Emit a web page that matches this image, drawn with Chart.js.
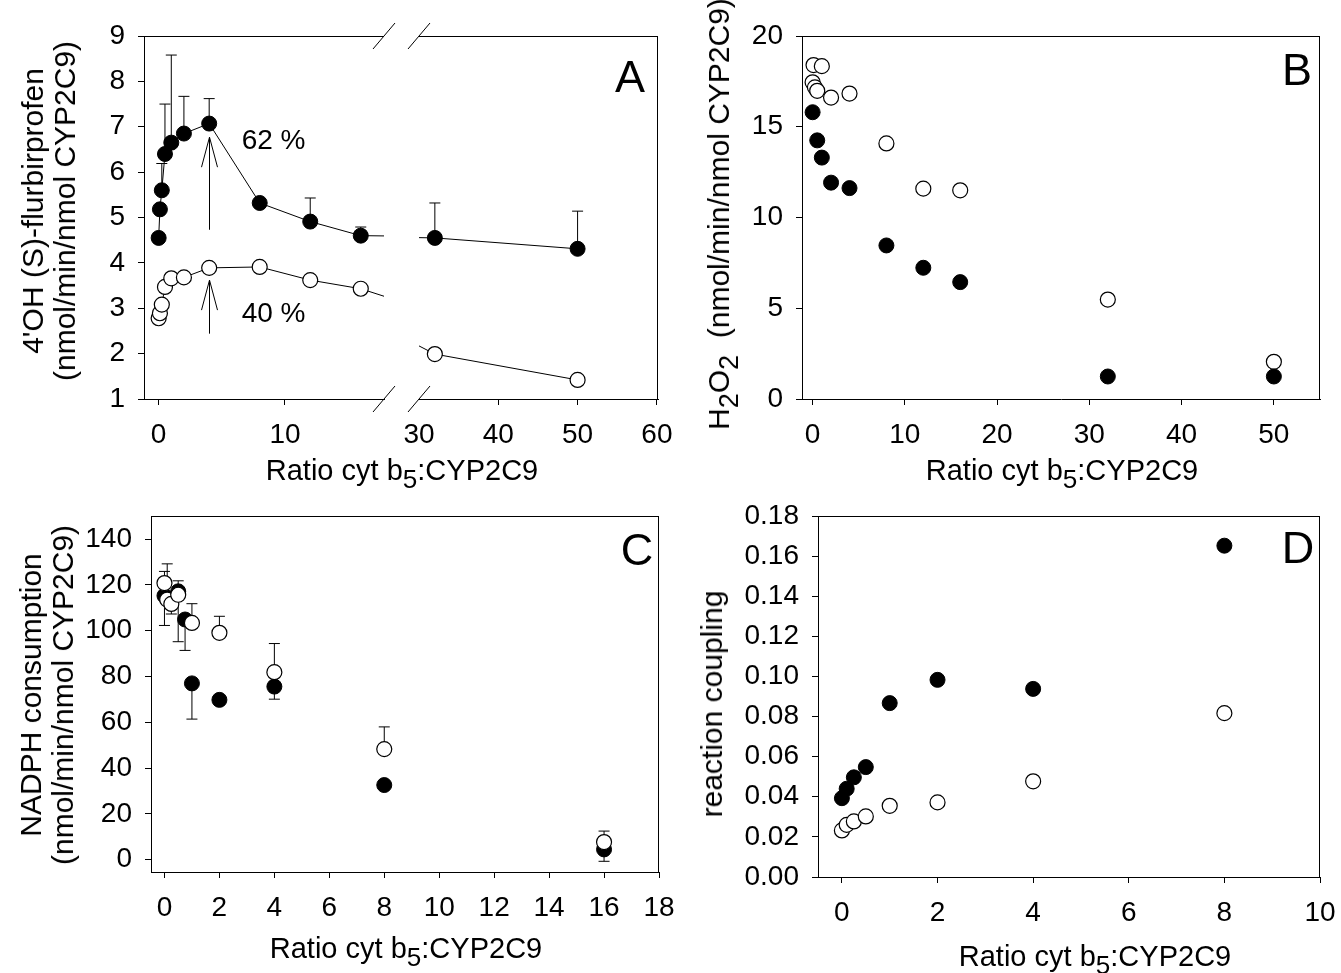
<!DOCTYPE html>
<html>
<head>
<meta charset="utf-8">
<title>cyt b5 : CYP2C9</title>
<script src="https://cdn.jsdelivr.net/npm/chart.js@4.4.1/dist/chart.umd.min.js"></script>
<style>
  html, body { margin: 0; padding: 0; background: #fff; }
  body { width: 1341px; height: 973px; position: relative; overflow: hidden;
         font-family: 'Liberation Sans', Arial, sans-serif; color: #000; }
  canvas { position: absolute; }
  .txt { position: absolute; white-space: nowrap; font-size: 29px; line-height: 1; z-index: 2; }
  .xlab { transform: translate(-50%, -50%); }
  .ylab { transform: translate(-50%, -50%) rotate(-90deg); text-align: center; line-height: 32px; font-size: 30px; }
  .letter { position: absolute; font-size: 45px; line-height: 1; transform: translate(-50%, -50%); z-index: 2; }
  sub { font-size: 0.9em; vertical-align: -0.34em; line-height: 0; }
</style>
</head>
<body>
<canvas id="chartA1"></canvas>
<canvas id="chartA2"></canvas>
<canvas id="chartB"></canvas>
<canvas id="chartC"></canvas>
<canvas id="chartD"></canvas>

<div class="txt ylab" style="left:49px; top:211px;">4'OH (S)-flurbirprofen<br>(nmol/min/nmol CYP2C9)</div>
<div class="txt xlab" style="left:402px; top:470px;">Ratio cyt b<sub>5</sub>:CYP2C9</div>
<div class="letter" style="left:630px; top:76px;">A</div>

<div class="txt ylab" style="left:719px; top:214px;">H<sub>2</sub>O<sub>2</sub>&nbsp; (nmol/min/nmol CYP2C9)</div>
<div class="txt xlab" style="left:1062px; top:470px;">Ratio cyt b<sub>5</sub>:CYP2C9</div>
<div class="letter" style="left:1297px; top:69px;">B</div>

<div class="txt ylab" style="left:47px; top:695px;">NADPH consumption<br>(nmol/min/nmol CYP2C9)</div>
<div class="txt xlab" style="left:406px; top:948px;">Ratio cyt b<sub>5</sub>:CYP2C9</div>
<div class="letter" style="left:637px; top:549px;">C</div>

<div class="txt ylab" style="left:712px; top:704px;">reaction coupling</div>
<div class="txt xlab" style="left:1095px; top:956px;">Ratio cyt b<sub>5</sub>:CYP2C9</div>
<div class="letter" style="left:1298px; top:547px;">D</div>

<script>
// Panel A: 4'OH-flurbiprofen formation (filled / open series)
const ratioA = [0, 0.1, 0.25, 0.5, 1, 2, 4, 8, 12, 16, 32, 50];
const ohFilledA = [4.55, 5.18, 5.6, 6.4, 6.65, 6.85, 7.07, 5.32, 4.91, 4.6, 4.55, 4.31];
const ohFilledTopA = [null, null, 6.19, 7.5, 8.58, 7.67, 7.62, null, 5.43, 4.79, 5.32, 5.14];
const ohOpenA = [2.78, 2.89, 3.08, 3.47, 3.66, 3.68, 3.89, 3.91, 3.62, 3.43, 1.99, 1.42];

// Panel B: H2O2 formation
const ratioFilledB = [0, 0.5, 1, 2, 4, 8, 12, 16, 32, 50];
const h2o2FilledB = [15.8, 14.25, 13.3, 11.92, 11.62, 8.46, 7.23, 6.44, 1.24, 1.24];
const ratioOpenB = [0, 0.1, 0.25, 0.5, 1, 2, 4, 8, 12, 16, 32, 50];
const h2o2OpenB = [17.45, 18.4, 17.17, 16.98, 18.34, 16.61, 16.83, 14.08, 11.59, 11.5, 5.48, 2.05];

// Panel C: NADPH consumption
const ratioFilledC = [0, 0.5, 0.75, 1, 2, 4, 8, 16];
const nadphFilledC = [115.3, 117.2, 104.9, 77.0, 69.8, 75.6, 32.6, 4.5];
const nadphFilledLowC = [102.3, 95.2, 91.4, 61.4, null, 70.1, null, -0.7];
const nadphFilledHighC = [125.9, 121.8, null, null, null, null, null, null];
const ratioOpenC = [0, 0.1, 0.25, 0.5, 1, 2, 4, 8, 16];
const nadphOpenC = [120.8, 113.6, 111.7, 115.7, 103.4, 99.1, 81.9, 48.3, 7.7];
const nadphOpenLowC = [null, null, 107.3, null, null, null, null, null, null];
const nadphOpenHighC = [null, 129.2, null, null, 111.8, 106.3, 94.4, 58.0, 12.5];

// Panel D: reaction coupling
const ratioD = [0, 0.1, 0.25, 0.5, 1, 2, 4, 8];
const couplingFilledD = [0.0393, 0.0440, 0.0497, 0.0548, 0.0867, 0.0983, 0.0938, 0.1652];
const couplingOpenD = [0.0232, 0.0260, 0.0277, 0.0302, 0.0355, 0.0372, 0.0477, 0.0817];

// Tick values
const ticksAxLeft = [0, 10];
const ticksAxRight = [30, 40, 50, 60];
const ticksAy = [1, 2, 3, 4, 5, 6, 7, 8, 9];
const ticksBx = [0, 10, 20, 30, 40, 50];
const ticksBy = [0, 5, 10, 15, 20];
const ticksCx = [0, 2, 4, 6, 8, 10, 12, 14, 16, 18];
const ticksCy = [0, 20, 40, 60, 80, 100, 120, 140];
const ticksDx = [0, 2, 4, 6, 8, 10];
const ticksDy = [0, 0.02, 0.04, 0.06, 0.08, 0.10, 0.12, 0.14, 0.16, 0.18];

// Annotations in panel A (data units)
const arrowsA = [
  { x: 4, from: 4.73, to: 6.77 },
  { x: 4, from: 2.44, to: 3.62 }
];
const notesA = [
  { text: '62 %', x: 9.1, y: 6.68 },
  { text: '40 %', x: 9.1, y: 2.87 }
];

const FONT = "'Liberation Sans', Arial, sans-serif";
const M = { l: 100, r: 60, t: 30, b: 70 };   // room around each plot area

Chart.defaults.font.family = FONT;
Chart.defaults.color = '#000';

/**
 * Size and place a canvas so that its chart area lands on the given page rectangle
 */
function placeCanvas(id, area) {
  const c = document.getElementById(id);
  const w = area.r - area.l + M.l + M.r;
  const h = area.b - area.t + M.t + M.b;
  c.width = w;
  c.height = h;
  c.style.width = w + 'px';
  c.style.height = h + 'px';
  c.style.left = (area.l - M.l) + 'px';
  c.style.top = (area.t - M.t) + 'px';
  return c;
}

function xScale(min, max, ticks, hideTick) {
  return {
    type: 'linear', position: 'bottom', min: min, max: max, bounds: 'data',
    afterBuildTicks: s => { s.ticks = ticks.map(v => ({ value: v })); },
    afterFit: s => { s.height = M.b; s.paddingLeft = 0; s.paddingRight = 0; },
    grid: {
      drawOnChartArea: false, drawTicks: true, tickLength: 6, lineWidth: 1, color: '#000',
      tickColor: ctx => (hideTick !== undefined && ctx.tick && ctx.tick.value === hideTick) ? 'rgba(0,0,0,0)' : '#000'
    },
    border: { display: true, color: '#000', width: 1 },
    ticks: { color: '#000', font: { size: 28 }, padding: 13, maxRotation: 0, autoSkip: false }
  };
}

function yScale(min, max, ticks, fmt, hidden) {
  return {
    type: 'linear', position: 'left', min: min, max: max, bounds: 'data',
    afterBuildTicks: s => { s.ticks = ticks.map(v => ({ value: v })); },
    afterFit: s => { s.width = M.l; s.paddingTop = 0; s.paddingBottom = 0; },
    grid: { display: !hidden, drawOnChartArea: false, drawTicks: true, tickLength: 6, lineWidth: 1, color: '#000' },
    border: { display: !hidden, color: '#000', width: 1 },
    ticks: { display: !hidden, color: '#000', font: { size: 28 }, padding: 13, autoSkip: false,
             callback: fmt || (v => String(v)) }
  };
}

function points(xs, ys) {
  return xs.map((x, i) => ({ x: x, y: ys[i] }));
}

function filledSeries(xs, ys, extra) {
  return Object.assign({
    data: points(xs, ys),
    pointRadius: 7.5, pointBackgroundColor: '#000', pointBorderColor: '#000', pointBorderWidth: 1,
    borderColor: '#000', borderWidth: 1, showLine: false, clip: 0
  }, extra || {});
}

function openSeries(xs, ys, extra) {
  return Object.assign({
    data: points(xs, ys),
    pointRadius: 7.5, pointBackgroundColor: '#fff', pointBorderColor: '#000', pointBorderWidth: 1.2,
    borderColor: '#000', borderWidth: 1, showLine: false, clip: 0
  }, extra || {});
}

// Top / right frame lines and axis break marks
const framePlugin = {
  id: 'frame',
  afterDraw(chart, args, opts) {
    const { ctx, chartArea: a } = chart;
    ctx.save();
    ctx.strokeStyle = '#000';
    ctx.lineWidth = 1;
    ctx.beginPath();
    if (opts.top) { ctx.moveTo(a.left, a.top + 0.5); ctx.lineTo(a.right, a.top + 0.5); }
    if (opts.right) { ctx.moveTo(a.right - 0.5, a.top); ctx.lineTo(a.right - 0.5, a.bottom); }
    if (opts.breakAt) {
      const bx = opts.breakAt === 'right' ? a.right : a.left;
      [a.top, a.bottom].forEach(by => {
        ctx.moveTo(bx - 11, by + 13);
        ctx.lineTo(bx + 11, by - 13);
      });
    }
    ctx.stroke();
    ctx.restore();
  }
};

// Error bars, drawn under the markers
const errorBarPlugin = {
  id: 'errorBars',
  beforeDatasetsDraw(chart) {
    const { ctx, scales: { x, y } } = chart;
    ctx.save();
    ctx.strokeStyle = '#000';
    ctx.lineWidth = 1;
    chart.data.datasets.forEach(ds => {
      if (!ds.errLow && !ds.errHigh) return;
      ds.data.forEach((p, i) => {
        if (p.x < x.min || p.x > x.max) return;
        const px = x.getPixelForValue(p.x);
        const py = y.getPixelForValue(p.y);
        [ds.errLow && ds.errLow[i], ds.errHigh && ds.errHigh[i]].forEach(end => {
          if (end === null || end === undefined) return;
          const ey = y.getPixelForValue(end);
          ctx.beginPath();
          ctx.moveTo(px, py);
          ctx.lineTo(px, ey);
          ctx.moveTo(px - 5.5, ey);
          ctx.lineTo(px + 5.5, ey);
          ctx.stroke();
        });
      });
    });
    ctx.restore();
  }
};

// Arrows and percentage labels of panel A
const notesPlugin = {
  id: 'notes',
  afterDatasetsDraw(chart, args, opts) {
    if (!opts.arrows) return;
    const { ctx, scales: { x, y } } = chart;
    ctx.save();
    ctx.strokeStyle = '#000';
    ctx.lineWidth = 1;
    opts.arrows.forEach(ar => {
      const px = Math.round(x.getPixelForValue(ar.x)) + 0.5;
      const y0 = y.getPixelForValue(ar.from);
      const y1 = y.getPixelForValue(ar.to);
      ctx.beginPath();
      ctx.moveTo(px, y0);
      ctx.lineTo(px, y1);
      ctx.moveTo(px - 8, y1 + 30);
      ctx.lineTo(px, y1);
      ctx.lineTo(px + 8, y1 + 30);
      ctx.stroke();
    });
    ctx.fillStyle = '#000';
    ctx.font = '28px ' + FONT;
    ctx.textAlign = 'center';
    ctx.textBaseline = 'middle';
    opts.labels.forEach(l => {
      ctx.fillText(l.text, x.getPixelForValue(l.x), y.getPixelForValue(l.y));
    });
    ctx.restore();
  }
};

function baseOptions(scales, frame, notes) {
  return {
    responsive: false,
    animation: false,
    events: [],
    layout: { padding: { left: 0, right: M.r, top: M.t, bottom: 0 } },
    scales: scales,
    plugins: {
      legend: { display: false },
      tooltip: { enabled: false },
      frame: frame,
      notes: notes || {}
    }
  };
}

const allPlugins = [framePlugin, errorBarPlugin, notesPlugin];

// Panel A, left part of the broken axis
new Chart(placeCanvas('chartA1', { l: 144, t: 36, r: 384, b: 399 }), {
  type: 'scatter',
  data: {
    datasets: [
      filledSeries(ratioA, ohFilledA, { showLine: true, errHigh: ohFilledTopA }),
      openSeries(ratioA, ohOpenA, { showLine: true })
    ]
  },
  options: baseOptions(
    { x: xScale(-1.16, 17.84, ticksAxLeft), y: yScale(1, 9, ticksAy) },
    { top: true, breakAt: 'right' },
    { arrows: arrowsA, labels: notesA }
  ),
  plugins: allPlugins
});

// Panel A, right part of the broken axis
new Chart(placeCanvas('chartA2', { l: 419, t: 36, r: 658, b: 399 }), {
  type: 'scatter',
  data: {
    datasets: [
      filledSeries(ratioA, ohFilledA, { showLine: true, errHigh: ohFilledTopA }),
      openSeries(ratioA, ohOpenA, { showLine: true })
    ]
  },
  options: baseOptions(
    { x: xScale(30, 60.14, ticksAxRight, 30), y: yScale(1, 9, ticksAy, null, true) },
    { top: true, right: true, breakAt: 'left' }
  ),
  plugins: allPlugins
});

// Panel B
new Chart(placeCanvas('chartB', { l: 802, t: 36, r: 1320, b: 399 }), {
  type: 'scatter',
  data: {
    datasets: [
      filledSeries(ratioFilledB, h2o2FilledB),
      openSeries(ratioOpenB, h2o2OpenB)
    ]
  },
  options: baseOptions(
    { x: xScale(-1.15, 55.0, ticksBx), y: yScale(0, 20, ticksBy) },
    { top: true, right: true }
  ),
  plugins: allPlugins
});

// Panel C
new Chart(placeCanvas('chartC', { l: 151, t: 516, r: 659, b: 872 }), {
  type: 'scatter',
  data: {
    datasets: [
      openSeries(ratioOpenC, nadphOpenC, { errLow: nadphOpenLowC, errHigh: nadphOpenHighC }),
      filledSeries(ratioFilledC, nadphFilledC, { errLow: nadphFilledLowC, errHigh: nadphFilledHighC })
    ]
  },
  options: baseOptions(
    { x: xScale(-0.49, 18, ticksCx), y: yScale(-5.37, 150.1, ticksCy) },
    { top: true, right: true }
  ),
  plugins: allPlugins
});

// Panel D
new Chart(placeCanvas('chartD', { l: 818, t: 516, r: 1320, b: 877 }), {
  type: 'scatter',
  data: {
    datasets: [
      filledSeries(ratioD, couplingFilledD),
      openSeries(ratioD, couplingOpenD)
    ]
  },
  options: baseOptions(
    { x: xScale(-0.5, 10, ticksDx), y: yScale(0, 0.18, ticksDy, v => v.toFixed(2)) },
    { top: true, right: true }
  ),
  plugins: allPlugins
});
</script>
</body>
</html>
